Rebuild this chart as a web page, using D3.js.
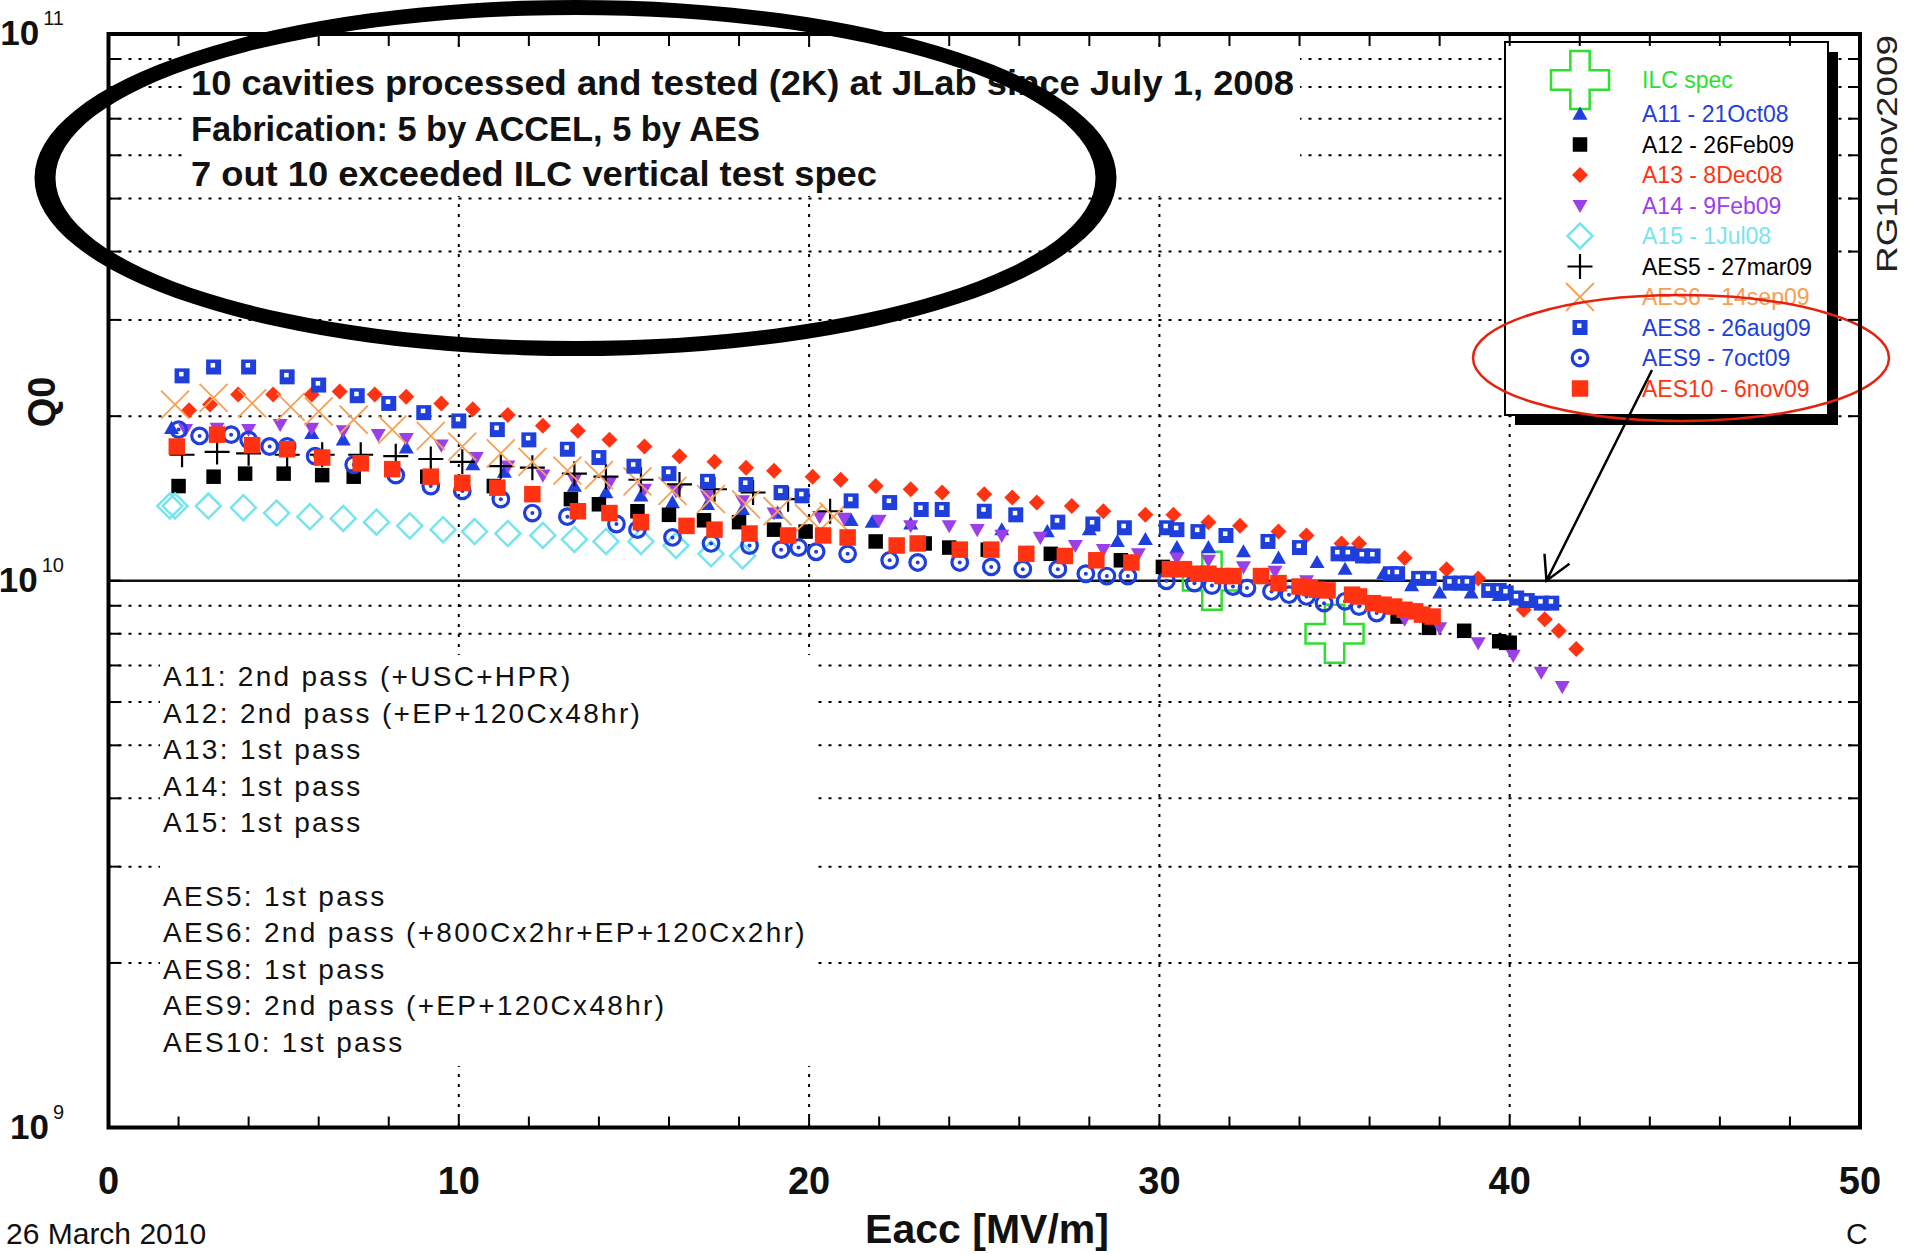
<!DOCTYPE html>
<html>
<head>
<meta charset="utf-8">
<script src="https://cdn.jsdelivr.net/npm/d3@7"></script>
<style>
  body { margin: 0; background: #fff; }
  svg { display: block; font-family: "Liberation Sans", Arial, sans-serif; }
</style>
</head>
<body>
<div id="chart"></div>
<script>
// data: [Eacc in MV/m, Q0 in units of 1e10]
var ilcSpec = [[31.5, 1.0], [35.0, 0.8]];

var a11 = [[1.8, 1.90], [5.8, 1.86], [6.7, 1.81], [8.5, 1.75], [10.4, 1.63], [11.3, 1.58],
    [13.3, 1.49], [14.2, 1.45], [15.2, 1.43], [16.1, 1.39], [17.1, 1.38], [18.1, 1.35],
    [19.1, 1.33], [21.2, 1.29], [21.8, 1.28], [22.9, 1.27], [25.5, 1.24], [26.8, 1.23],
    [28.0, 1.24], [28.8, 1.18], [29.6, 1.19], [30.5, 1.15], [31.4, 1.15], [32.4, 1.13],
    [33.4, 1.10], [34.5, 1.08], [35.3, 1.05], [36.4, 1.03], [37.2, 0.98], [38.0, 0.95],
    [38.9, 0.95], [39.7, 0.94]];

var a12 = [[2.0, 1.49], [3.0, 1.55], [3.9, 1.57], [5.0, 1.57], [6.1, 1.56], [7.0, 1.55],
    [8.1, 1.60], [9.1, 1.55], [10.1, 1.51], [11.0, 1.49], [12.1, 1.44], [13.2, 1.41],
    [14.0, 1.38], [15.1, 1.34], [16.0, 1.32], [17.0, 1.29], [18.0, 1.28], [19.0, 1.24],
    [19.9, 1.23], [21.9, 1.18], [23.3, 1.17], [24.0, 1.15], [25.1, 1.14], [26.9, 1.12],
    [28.9, 1.09], [30.1, 1.06], [36.8, 0.86], [37.7, 0.82], [38.7, 0.81], [39.7, 0.775],
    [39.9, 0.77], [40.0, 0.77]];

var a13 = [[2.3, 2.05], [2.9, 2.10], [3.7, 2.19], [4.7, 2.19], [5.8, 2.19], [6.6, 2.22],
    [7.6, 2.19], [8.5, 2.17], [9.5, 2.11], [10.4, 2.06], [11.4, 2.01], [12.4, 1.92],
    [13.4, 1.88], [14.3, 1.81], [15.3, 1.76], [16.3, 1.69], [17.3, 1.65], [18.2, 1.61],
    [19.0, 1.59], [20.1, 1.55], [20.9, 1.53], [21.9, 1.49], [22.9, 1.47], [23.8, 1.45],
    [25.0, 1.44], [25.8, 1.42], [26.5, 1.39], [27.5, 1.37], [28.4, 1.34], [29.6, 1.32],
    [30.4, 1.32], [31.4, 1.28], [32.3, 1.26], [33.4, 1.23], [34.2, 1.21], [35.2, 1.17],
    [35.7, 1.17], [37.0, 1.10], [38.2, 1.05], [39.1, 1.01], [40.4, 0.885], [41.0, 0.85],
    [41.4, 0.81], [41.9, 0.75]];

var a14 = [[2.2, 1.89], [3.1, 1.90], [4.0, 1.89], [4.9, 1.93], [5.8, 1.90], [6.7, 1.88],
    [7.7, 1.85], [8.5, 1.82], [9.5, 1.77], [10.5, 1.68], [11.4, 1.62], [12.4, 1.56],
    [13.3, 1.53], [14.3, 1.51], [15.3, 1.47], [16.2, 1.46], [17.1, 1.43], [18.1, 1.40],
    [19.0, 1.33], [20.3, 1.31], [21.0, 1.30], [22.0, 1.29], [22.9, 1.26], [24.0, 1.26],
    [24.8, 1.24], [25.5, 1.21], [26.6, 1.20], [27.6, 1.16], [28.4, 1.14], [29.4, 1.12],
    [30.5, 1.10], [31.4, 1.09], [32.4, 1.06], [33.3, 1.04], [34.2, 1.00], [37.0, 0.85],
    [38.0, 0.82], [39.1, 0.77], [40.1, 0.73], [40.9, 0.68], [41.5, 0.64]];

var a15 = [[1.75, 1.37], [1.9, 1.37], [2.85, 1.37], [3.85, 1.36], [4.8, 1.33], [5.75, 1.31],
    [6.7, 1.30], [7.65, 1.28], [8.6, 1.26], [9.55, 1.24], [10.45, 1.23], [11.4, 1.22],
    [12.4, 1.21], [13.3, 1.19], [14.2, 1.18], [15.2, 1.18], [16.2, 1.16], [17.2, 1.12],
    [18.1, 1.11]];

var aes5 = [[2.1, 1.70], [3.1, 1.72], [4.0, 1.71], [5.1, 1.70], [6.1, 1.70], [7.2, 1.70],
    [8.2, 1.69], [9.2, 1.67], [10.1, 1.65], [11.2, 1.62], [12.1, 1.61], [13.3, 1.57],
    [14.2, 1.55], [15.2, 1.53], [16.3, 1.50], [17.3, 1.47], [18.4, 1.45], [19.4, 1.41],
    [20.6, 1.34]];

var aes6 = [[1.9, 2.10], [3.0, 2.16], [4.1, 2.11], [5.2, 2.08], [6.0, 2.04], [7.0, 1.97],
    [8.1, 1.89], [9.2, 1.84], [10.1, 1.76], [11.2, 1.71], [12.1, 1.65], [13.1, 1.59],
    [14.0, 1.56], [15.1, 1.52], [16.1, 1.46], [17.2, 1.41], [18.2, 1.38], [19.1, 1.34],
    [20.0, 1.30], [20.7, 1.31]];

var aes8 = [[2.1, 2.37], [3.0, 2.46], [4.0, 2.46], [5.1, 2.36], [6.0, 2.28], [7.1, 2.18],
    [8.0, 2.11], [9.0, 2.03], [10.0, 1.96], [11.1, 1.89], [12.0, 1.81], [13.1, 1.74],
    [14.0, 1.68], [15.0, 1.62], [16.0, 1.57], [17.1, 1.52], [18.2, 1.50], [19.2, 1.45],
    [19.8, 1.43], [21.2, 1.40], [22.3, 1.39], [23.2, 1.35], [23.8, 1.35], [25.0, 1.34],
    [25.9, 1.32], [27.1, 1.28], [28.1, 1.27], [29.0, 1.25], [30.2, 1.25], [30.5, 1.24],
    [31.1, 1.23], [31.9, 1.21], [33.1, 1.18], [34.0, 1.15], [35.1, 1.12], [35.4, 1.12],
    [35.8, 1.11], [36.1, 1.11], [36.6, 1.03], [36.8, 1.03], [37.4, 1.01], [37.7, 1.01],
    [38.3, 0.99], [38.6, 0.99], [38.8, 0.99], [39.4, 0.96], [39.7, 0.96], [39.9, 0.95],
    [40.2, 0.93], [40.5, 0.92], [40.9, 0.91], [41.2, 0.91]];

var aes9 = [[2.0, 1.89], [2.6, 1.84], [3.5, 1.85], [4.0, 1.81], [4.6, 1.76], [5.1, 1.76],
    [5.9, 1.69], [7.0, 1.63], [8.2, 1.56], [9.2, 1.49], [10.1, 1.46], [11.2, 1.41],
    [12.1, 1.33], [13.1, 1.31], [14.5, 1.27], [15.1, 1.24], [16.1, 1.20], [17.2, 1.17],
    [18.3, 1.16], [19.2, 1.14], [19.7, 1.15], [20.2, 1.13], [21.1, 1.12], [22.3, 1.09],
    [23.1, 1.08], [24.3, 1.08], [25.2, 1.06], [26.1, 1.05], [27.1, 1.05], [27.9, 1.03],
    [28.5, 1.02], [29.1, 1.02], [30.2, 1.00], [31.0, 0.99], [31.5, 0.98], [32.1, 0.976],
    [32.5, 0.97], [33.2, 0.956], [33.7, 0.943], [34.2, 0.936], [34.7, 0.91], [35.3, 0.917],
    [35.7, 0.897], [36.2, 0.873]];

var aes10 = [[1.95, 1.76], [3.1, 1.85], [4.1, 1.77], [5.1, 1.74], [6.1, 1.68], [7.2, 1.64],
    [8.1, 1.60], [9.2, 1.55], [10.1, 1.51], [11.1, 1.48], [12.1, 1.44], [13.4, 1.34],
    [14.3, 1.33], [15.2, 1.28], [16.5, 1.26], [17.3, 1.24], [18.3, 1.22], [19.4, 1.21],
    [20.4, 1.21], [21.1, 1.20], [22.5, 1.16], [23.1, 1.17], [24.3, 1.14], [25.2, 1.14],
    [26.2, 1.12], [27.3, 1.11], [28.2, 1.09], [29.2, 1.08], [30.3, 1.05], [30.7, 1.05],
    [31.1, 1.03], [31.4, 1.03], [31.8, 1.02], [32.1, 1.02], [32.9, 1.02], [33.4, 0.99],
    [34.0, 0.976], [34.3, 0.97], [34.5, 0.963], [34.8, 0.96], [35.5, 0.943], [35.7, 0.936],
    [36.1, 0.91], [36.4, 0.904], [36.7, 0.897], [37.0, 0.885], [37.3, 0.879], [37.5, 0.867],
    [37.8, 0.86]];

var legendLabels = ["ILC spec", "A11 - 21Oct08", "A12 - 26Feb09", "A13 - 8Dec08", "A14 - 9Feb09",
    "A15 - 1Jul08", "AES5 - 27mar09", "AES6 - 14sep09", "AES8 - 26aug09", "AES9 - 7oct09",
    "AES10 - 6nov09"];

var xTickLabels = [0, 10, 20, 30, 40, 50];
var yDecades = [9, 10, 11];

var titleLines = ["10 cavities processed and tested (2K) at JLab since July 1, 2008",
    "Fabrication: 5 by ACCEL, 5 by AES",
    "7 out 10 exceeded ILC vertical test spec"];

var passNotes = ["A11: 2nd pass (+USC+HPR)", "A12: 2nd pass (+EP+120Cx48hr)", "A13: 1st pass",
    "A14: 1st pass", "A15: 1st pass", "", "AES5: 1st pass",
    "AES6: 2nd pass (+800Cx2hr+EP+120Cx2hr)", "AES8: 1st pass",
    "AES9: 2nd pass (+EP+120Cx48hr)", "AES10: 1st pass"];

// svg dimensions and plot borders
var svgWidth = 1911;
var svgHeight = 1254;
var margin = { top: 34, right: 51, bottom: 126.5, left: 108.5 };
var width = svgWidth - margin.left - margin.right;
var height = svgHeight - margin.top - margin.bottom;

var svg = d3.select("#chart").append("svg")
    .attr("width", svgWidth)
    .attr("height", svgHeight);

svg.append("rect").attr("width", svgWidth).attr("height", svgHeight).attr("fill", "#fff");

// scales
var x = d3.scaleLinear().domain([0, 50]).range([margin.left, margin.left + width]);
var y = d3.scaleLog().domain([1e9, 1e11]).range([margin.top + height, margin.top]);
var q = d => y(d[1] * 1e10);

// series table built from the arrays above
var series = [
    { label: legendLabels[0], data: ilcSpec, marker: "cross", color: "#2ee02e" },
    { label: legendLabels[1], data: a11, marker: "triUp", color: "#1f3fdc" },
    { label: legendLabels[2], data: a12, marker: "square", color: "#000" },
    { label: legendLabels[3], data: a13, marker: "diamond", color: "#ff3311" },
    { label: legendLabels[4], data: a14, marker: "triDown", color: "#9b3fe8" },
    { label: legendLabels[5], data: a15, marker: "openDiamond", color: "#78e4ee" },
    { label: legendLabels[6], data: aes5, marker: "plus", color: "#000" },
    { label: legendLabels[7], data: aes6, marker: "x", color: "#f5a055" },
    { label: legendLabels[8], data: aes8, marker: "squareDot", color: "#1f3fdc" },
    { label: legendLabels[9], data: aes9, marker: "circleDot", color: "#1f3fdc" },
    { label: legendLabels[10], data: aes10, marker: "bigSquare", color: "#ff3311" }
];

function shape(type, s) {
    var h = s / 2;
    switch (type) {
        case "square": return `M${-h},${-h}h${s}v${s}h${-s}Z`;
        case "diamond": return `M0,${-h}L${h},0L0,${h}L${-h},0Z`;
        case "triUp": return `M0,${-h}L${h},${h * 0.75}L${-h},${h * 0.75}Z`;
        case "triDown": return `M0,${h}L${h},${-h * 0.75}L${-h},${-h * 0.75}Z`;
        case "plus": return `M${-h},0H${h}M0,${-h}V${h}`;
        case "x": return `M${-h},${-h}L${h},${h}M${h},${-h}L${-h},${h}`;
    }
}

// draws one marker into group g
function drawMarker(g, s) {
    var c = s.color;
    switch (s.marker) {
        case "cross":
            g.append("path").attr("d", d3.symbol(d3.symbolCross, 1870)())
                .attr("fill", "none").attr("stroke", c).attr("stroke-width", 2.5);
            break;
        case "triUp":
        case "triDown":
            g.append("path").attr("d", shape(s.marker, 15)).attr("fill", c);
            break;
        case "square":
            g.append("path").attr("d", shape("square", 14.5)).attr("fill", c);
            break;
        case "bigSquare":
            g.append("path").attr("d", shape("square", 16.5)).attr("fill", c);
            break;
        case "diamond":
            g.append("path").attr("d", shape("diamond", 16)).attr("fill", c);
            break;
        case "openDiamond":
            g.append("path").attr("d", shape("diamond", 25)).attr("fill", "none")
                .attr("stroke", c).attr("stroke-width", 2.5);
            break;
        case "plus":
            g.append("path").attr("d", shape("plus", 25)).attr("stroke", c).attr("stroke-width", 2.2);
            break;
        case "x":
            g.append("path").attr("d", shape("x", 28)).attr("stroke", c).attr("stroke-width", 1.8);
            break;
        case "squareDot":
            g.append("path").attr("d", shape("square", 15)).attr("fill", c);
            g.append("rect").attr("x", -3).attr("y", -4).attr("width", 4.5).attr("height", 4.5).attr("fill", "#fff");
            break;
        case "circleDot":
            g.append("circle").attr("r", 7.8).attr("fill", "none").attr("stroke", c).attr("stroke-width", 3.2);
            g.append("circle").attr("r", 2).attr("fill", c);
            break;
    }
}

// dotted grid: minor decades horizontally, every 10 MV/m vertically
var yMinor = y.ticks().filter(v => Math.abs(Math.log10(v) - Math.round(Math.log10(v))) > 1e-6);
var grid = svg.append("g").attr("stroke", "#000").attr("stroke-width", 2).attr("stroke-dasharray", "3,7");
grid.selectAll(".hgrid").data(yMinor).enter().append("line")
    .attr("x1", margin.left).attr("x2", margin.left + width)
    .attr("y1", d => y(d)).attr("y2", d => y(d));
grid.selectAll(".vgrid").data([10, 20, 30, 40]).enter().append("line")
    .attr("x1", d => x(d)).attr("x2", d => x(d))
    .attr("y1", margin.top).attr("y2", margin.top + height);

// white boxes behind the annotations
svg.append("rect").attr("x", 186).attr("y", 48).attr("width", 1114).attr("height", 148).attr("fill", "#fff");
svg.append("rect").attr("x", 160).attr("y", 655).attr("width", 652).attr("height", 411).attr("fill", "#fff");

// annotation text, upper left
var titleWidths = [1103, 569, 686];
svg.selectAll(".title").data(titleLines).enter().append("text")
    .attr("x", 191)
    .attr("y", (d, i) => 95 + i * 45.5)
    .attr("font-family", "'Liberation Sans Narrow', 'Liberation Sans', Arial, sans-serif")
    .attr("font-weight", "bold")
    .attr("font-size", 35)
    .attr("fill", "#111")
    .attr("textLength", (d, i) => titleWidths[i])
    .attr("lengthAdjust", "spacingAndGlyphs")
    .text(d => d);

// pass notes, lower left
svg.selectAll(".note").data(passNotes).enter().append("text")
    .attr("x", 163)
    .attr("y", (d, i) => 686 + i * 36.6)
    .attr("font-size", 28)
    .attr("letter-spacing", 2.3)
    .attr("fill", "#111")
    .text(d => d);

// solid line at 1e10
svg.append("line")
    .attr("x1", margin.left).attr("x2", margin.left + width)
    .attr("y1", y(1e10)).attr("y2", y(1e10))
    .attr("stroke", "#111").attr("stroke-width", 2.5);

// data points
series.forEach(function(s) {
    svg.append("g").selectAll("g").data(s.data).enter().append("g")
        .attr("transform", d => `translate(${x(d[0])},${q(d)})`)
        .each(function() { drawMarker(d3.select(this), s); });
});

// hand-drawn black ellipse around the headline
svg.append("path")
    .attr("d", "M34.5,178a541,178 0 1,0 1082,0a541,178 0 1,0 -1082,0Z" +
        "M55.5,178a520,163 0 1,0 1040,0a520,163 0 1,0 -1040,0Z")
    .attr("fill", "#000")
    .attr("fill-rule", "evenodd");

// legend box with shadow
var legend = svg.append("g");
legend.append("rect").attr("x", 1515).attr("y", 52).attr("width", 323).attr("height", 373).attr("fill", "#000");
legend.append("rect").attr("x", 1505).attr("y", 42).attr("width", 323).attr("height", 373)
    .attr("fill", "#fff").attr("stroke", "#000").attr("stroke-width", 2);

var rowY = i => (i === 0 ? 80 : 114 + (i - 1) * 30.5);
series.forEach(function(s, i) {
    var g = legend.append("g").attr("transform", `translate(1580,${rowY(i)})`);
    drawMarker(g, s);
    legend.append("text")
        .attr("x", 1642).attr("y", rowY(i) + 8)
        .attr("font-size", 23)
        .attr("fill", s.color)
        .text(s.label);
});

// red ellipse and arrow pointing at the 1e10 line
svg.append("ellipse")
    .attr("cx", 1681).attr("cy", 358).attr("rx", 208).attr("ry", 63)
    .attr("fill", "none").attr("stroke", "#e8200e").attr("stroke-width", 2.5);

var tipX = x(41.05), tipY = y(1e10);
svg.append("path")
    .attr("d", `M1652,370L${tipX},${tipY}M${tipX - 2},${tipY - 27}L${tipX},${tipY}L${tipX + 23},${tipY - 17}`)
    .attr("fill", "none").attr("stroke", "#000").attr("stroke-width", 2.5);

// frame and ticks
var axes = svg.append("g").attr("stroke", "#000");
var xMinor = d3.range(2, 50, 2);
axes.selectAll(".bt").data(xMinor).enter().append("line")
    .attr("x1", d => x(d)).attr("x2", d => x(d))
    .attr("y1", margin.top + height).attr("y2", margin.top + height - 11)
    .attr("stroke-width", 2);
axes.selectAll(".tt").data(xMinor).enter().append("line")
    .attr("x1", d => x(d)).attr("x2", d => x(d))
    .attr("y1", margin.top).attr("y2", margin.top + 12)
    .attr("stroke-width", 2);
axes.selectAll(".lt").data(yMinor.concat([1e10])).enter().append("line")
    .attr("x1", margin.left).attr("x2", margin.left + 12)
    .attr("y1", d => y(d)).attr("y2", d => y(d))
    .attr("stroke-width", 2);
axes.selectAll(".rt").data(yMinor.concat([1e10])).enter().append("line")
    .attr("x1", margin.left + width - 12).attr("x2", margin.left + width)
    .attr("y1", d => y(d)).attr("y2", d => y(d))
    .attr("stroke-width", 2);
axes.append("rect")
    .attr("x", margin.left).attr("y", margin.top)
    .attr("width", width).attr("height", height)
    .attr("fill", "none").attr("stroke-width", 4);

// y tick labels 10^n
svg.selectAll(".ylab").data(yDecades).enter().append("text")
    .attr("x", 64)
    .attr("y", d => y(Math.pow(10, d)) + 11)
    .attr("text-anchor", "end")
    .attr("fill", "#111")
    .each(function(d) {
        var t = d3.select(this);
        t.append("tspan").attr("font-weight", "bold").attr("font-size", 35).text("10");
        t.append("tspan").attr("font-size", 20).attr("dx", 4).attr("dy", -20).text(d);
    });

// x tick labels
svg.selectAll(".xlab").data(xTickLabels).enter().append("text")
    .attr("x", d => x(d))
    .attr("y", 1194)
    .attr("text-anchor", "middle")
    .attr("font-weight", "bold")
    .attr("font-size", 38)
    .attr("fill", "#111")
    .text(d => d);

// axis titles
svg.append("text")
    .attr("x", 987).attr("y", 1243)
    .attr("text-anchor", "middle")
    .attr("font-weight", "bold").attr("font-size", 41)
    .attr("fill", "#111")
    .text("Eacc [MV/m]");

svg.append("text")
    .attr("transform", "translate(55,402) rotate(-90)")
    .attr("text-anchor", "middle")
    .attr("font-weight", "bold").attr("font-size", 38)
    .attr("fill", "#111")
    .text("Q0");

// side and footer labels
svg.append("text")
    .attr("transform", "translate(1897,154) rotate(-90)")
    .attr("text-anchor", "middle")
    .attr("font-size", 30)
    .attr("textLength", 238)
    .attr("lengthAdjust", "spacingAndGlyphs")
    .attr("fill", "#222")
    .text("RG10nov2009");

svg.append("text").attr("x", 6).attr("y", 1244).attr("font-size", 30).attr("fill", "#111").text("26 March 2010");
svg.append("text").attr("x", 1846).attr("y", 1244).attr("font-size", 30).attr("fill", "#111").text("C");
</script>
</body>
</html>
